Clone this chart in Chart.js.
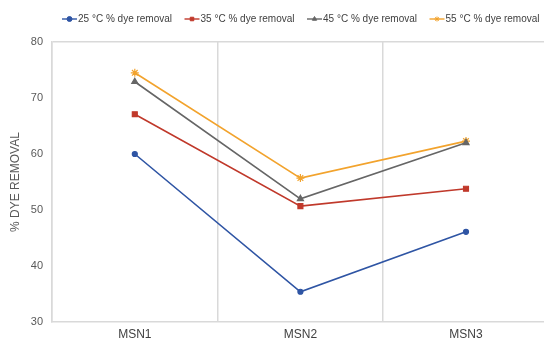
<!DOCTYPE html>
<html>
<head>
<meta charset="utf-8">
<script src="https://cdn.jsdelivr.net/npm/chart.js@4/dist/chart.umd.min.js"></script>
<style>
  html, body { margin: 0; padding: 0; background: #ffffff; overflow: hidden; }
  #wrap { width: 554px; height: 342px; position: relative; }
</style>
</head>
<body>
<div id="wrap"><canvas id="chart"></canvas></div>
<script>
// Categories and series values (% dye removal at each temperature)
const categories = ['MSN1', 'MSN2', 'MSN3'];
const seriesLabels = ['25 °C % dye removal', '35 °C % dye removal', '45 °C % dye removal', '55 °C % dye removal'];
const removal25 = [60.0, 35.4, 46.1];
const removal35 = [67.1, 50.7, 53.8];
const removal45 = [72.9, 52.0, 62.0];
const removal55 = [74.5, 55.7, 62.3];
const yMin = 30;
const yMax = 80;
const yStep = 10;
const yTitle = '% DYE REMOVAL';

const FONT = "'Liberation Sans', Arial, sans-serif";
const GRID = '#d9d9d9';
const NONE = 'rgba(0,0,0,0)';

const styles = [
  { color: '#2f55a4', point: 'circle',   radius: 2.5 },
  { color: '#c0392b', point: 'rect',     radius: 3.5 },
  { color: '#666666', point: 'triangle', radius: 3.5 },
  { color: '#f2a32d', point: 'star',     radius: 4 }
];
const values = [removal25, removal35, removal45, removal55];

const datasets = values.map((v, i) => ({
  label: seriesLabels[i],
  data: v,
  borderColor: styles[i].color,
  backgroundColor: styles[i].color,
  borderWidth: 1.6,
  pointStyle: styles[i].point,
  pointRadius: styles[i].radius,
  pointHoverRadius: styles[i].radius,
  pointBorderWidth: 1.2,
  tension: 0
}));

// Legend row: line sample with marker, then the series label
const lineLegend = {
  id: 'lineLegend',
  afterDraw(chart) {
    const ctx = chart.ctx;
    const y = 19;
    ctx.save();
    chart.data.datasets.forEach((ds, i) => {
      const x0 = 62 + i * 122.5;
      ctx.strokeStyle = ds.borderColor;
      ctx.lineWidth = 1.4;
      ctx.beginPath();
      ctx.moveTo(x0, y);
      ctx.lineTo(x0 + 15, y);
      ctx.stroke();
      ctx.fillStyle = ds.backgroundColor;
      ctx.strokeStyle = ds.borderColor;
      ctx.lineWidth = 1;
      Chart.helpers.drawPoint(ctx, {
        pointStyle: ds.pointStyle,
        radius: Math.min(ds.pointRadius, 2.5),
        rotation: 0,
        borderWidth: 1
      }, x0 + 7.5, y);
      ctx.fillStyle = '#404040';
      ctx.font = '10px ' + FONT;
      ctx.textBaseline = 'middle';
      ctx.textAlign = 'left';
      ctx.fillText(ds.label, x0 + 16, y + 0.5);
    });
    ctx.restore();
  }
};

new Chart(document.getElementById('chart'), {
  type: 'line',
  data: { labels: categories, datasets: datasets },
  options: {
    responsive: true,
    maintainAspectRatio: false,
    animation: false,
    layout: { padding: { top: 42, right: 0, left: 0, bottom: 0 } },
    plugins: {
      legend: { display: false },
      tooltip: { enabled: false }
    },
    scales: {
      x: {
        type: 'category',
        offset: true,
        afterFit(scale) { scale.height = 20; },
        grid: {
          offset: true,
          drawTicks: false,
          // separators between categories; the outer right edge stays open
          color: (c) => (c.type === 'tick' ? GRID : NONE),
          lineWidth: 1.5
        },
        border: { color: GRID, width: 1.5 },
        ticks: {
          padding: 5,
          color: '#404040',
          font: { family: FONT, size: 12 }
        }
      },
      y: {
        min: yMin,
        max: yMax,
        afterFit(scale) { scale.width = 52; },
        grid: {
          drawTicks: false,
          color: (c) => (c.tick && c.tick.value === yMax ? GRID : NONE),
          lineWidth: 1.5
        },
        border: { color: GRID, width: 1.5 },
        ticks: {
          stepSize: yStep,
          padding: 9,
          color: '#595959',
          font: { family: FONT, size: 11 }
        },
        title: {
          display: true,
          text: yTitle,
          color: '#595959',
          padding: { top: 8, bottom: 0 },
          font: { family: FONT, size: 12 }
        }
      }
    }
  },
  plugins: [lineLegend]
});
</script>
</body>
</html>
